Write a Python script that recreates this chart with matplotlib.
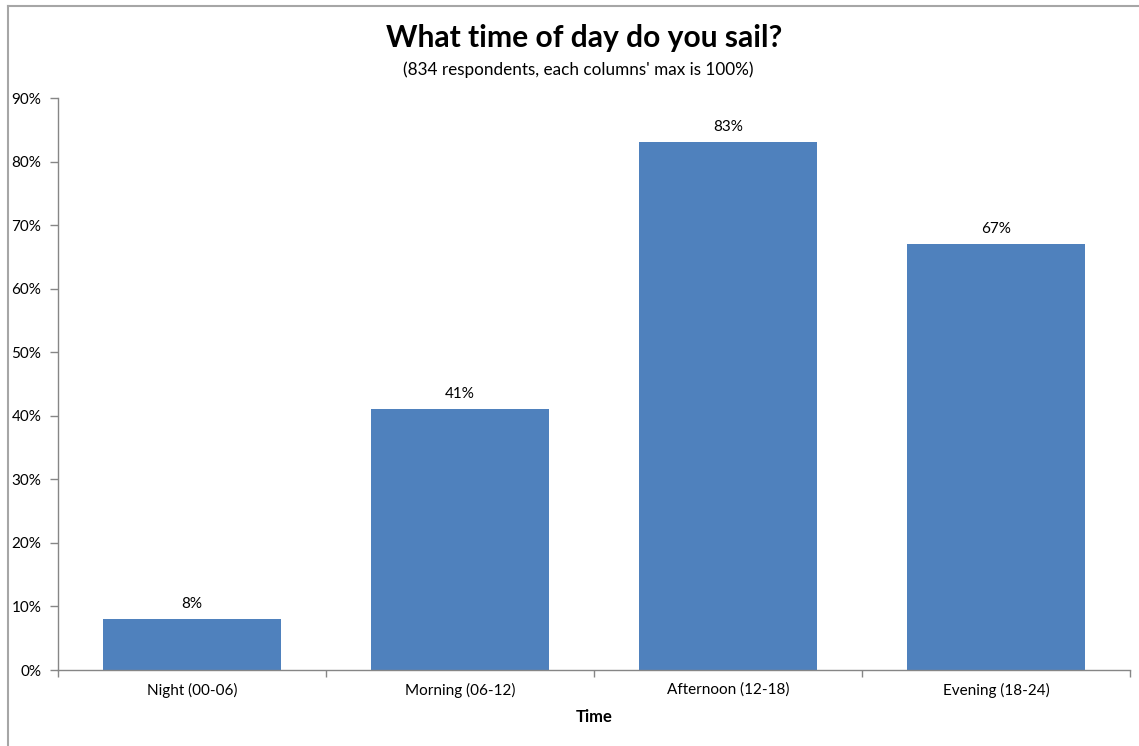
import matplotlib
matplotlib.use("Agg")
import matplotlib.pyplot as plt
from matplotlib.lines import Line2D
from matplotlib.ticker import FixedLocator, FuncFormatter

plt.rcParams['font.family'] = ['Lato', 'DejaVu Sans']

categories = ["Night (00-06)", "Morning (06-12)", "Afternoon (12-18)", "Evening (18-24)"]
values = [8, 41, 83, 67]
yticks = [0, 10, 20, 30, 40, 50, 60, 70, 80, 90]

W, H = 1139, 746
fig = plt.figure(figsize=(W / 100, H / 100), dpi=100)
ax = fig.add_axes([58 / W, 1 - 670 / H, (1130 - 58) / W, (670 - 98) / H])

bar_color = "#4F81BD"
axis_color = "#868686"

x = list(range(len(categories)))
bars = ax.bar(x, values, width=0.664, color=bar_color, zorder=2)
for xi, v in zip(x, values):
    ax.annotate(f"{v}%", (xi, v), xytext=(0, 6), textcoords="offset points",
                ha="center", va="bottom", fontsize=11, color="black")

ax.set_xlim(-0.5, len(categories) - 0.5)
ax.set_ylim(0, 90)
ax.set_yticks(yticks)
ax.yaxis.set_major_formatter(FuncFormatter(lambda v, p: f"{int(v)}%"))

# category labels at centers, tick marks at boundaries
ax.set_xticks(x)
ax.set_xticklabels(categories, fontsize=11)
ax.xaxis.set_minor_locator(FixedLocator([i - 0.5 for i in range(len(categories) + 1)]))
ax.tick_params(axis="x", which="major", length=0, pad=9)
ax.tick_params(axis="x", which="minor", length=5, width=1, color=axis_color, direction="out")
ax.tick_params(axis="y", length=6, width=1, color=axis_color, direction="out", labelsize=11, pad=6)

for s in ["top", "right"]:
    ax.spines[s].set_visible(False)
for s in ["left", "bottom"]:
    ax.spines[s].set_color(axis_color)
    ax.spines[s].set_linewidth(1)

ax.set_xlabel("Time", fontsize=12, fontweight="bold", labelpad=8)

fig.text(584.5 / W, 1 - 38 / H, "What time of day do you sail?", ha="center", va="center",
         fontsize=21.6, fontweight="bold")
fig.text(578 / W, 1 - 70 / H, "(834 respondents, each columns' max is 100%)", ha="center",
         va="center", fontsize=12.3)

# outer border (top and left)
fig.add_artist(Line2D([7.5 / W, 1], [1 - 6 / H, 1 - 6 / H], transform=fig.transFigure,
                      color="#A6A6A6", linewidth=1.5))
fig.add_artist(Line2D([7.5 / W, 7.5 / W], [0, 1 - 6 / H], transform=fig.transFigure,
                      color="#A6A6A6", linewidth=1.5))

fig.savefig("out.png", dpi=100, facecolor="white")
